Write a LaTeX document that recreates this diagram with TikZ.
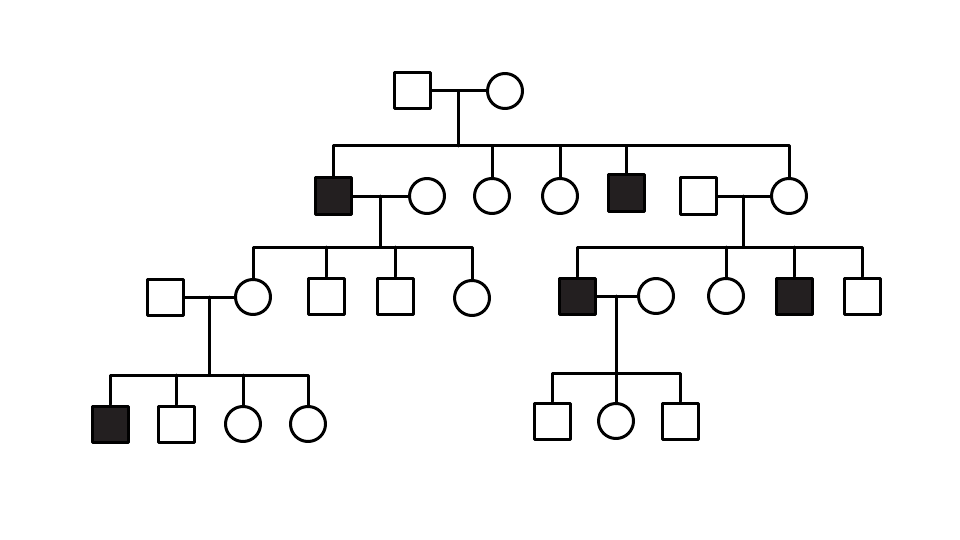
\documentclass[tikz,border=0pt]{standalone}
\usepackage{tikz}
\definecolor{affblack}{RGB}{35,31,32}

\begin{document}
\begin{tikzpicture}[line cap=round,line join=round,x=1pt,y=-1pt,line width=3pt,
		male/.style={draw, rectangle, minimum size=36pt, inner sep=0pt},
		female/.style={draw, circle, minimum size=35pt, inner sep=0pt},
		affected/.style={fill=affblack}]
			\useasboundingbox (0,0) rectangle (960,540);
			%generation I
			\node[male] (I1) at (412,91) {};
			\node[female] (I2) at (505,91) {};
			%generation II
			\node[male, affected] (II1) at (333,196) {};
			\node[female] (II2) at (427,196) {};
			\node[female] (II3) at (492,196) {};
			\node[female] (II4) at (560,196) {};
			\node[male, affected] (II5) at (626,193) {};
			\node[male] (II6) at (698,196) {};
			\node[female] (II7) at (789,196) {};
			%generation III
			\node[male] (III1) at (165,297) {};
			\node[female] (III2) at (253,297) {};
			\node[male] (III3) at (326,296) {};
			\node[male] (III4) at (395,296) {};
			\node[female] (III5) at (472,298) {};
			\node[male, affected] (III6) at (577,296) {};
			\node[female] (III7) at (656,296) {};
			\node[female] (III8) at (726,296) {};
			\node[male, affected] (III9) at (794,296) {};
			\node[male] (III10) at (862,296) {};
			%generation IV
			\node[male, affected] (IV1) at (110,424) {};
			\node[male] (IV2) at (176,424) {};
			\node[female] (IV3) at (243,424) {};
			\node[female] (IV4) at (308,424) {};
			\node[male] (IV5) at (552,421) {};
			\node[female] (IV6) at (616,421) {};
			\node[male] (IV7) at (680,421) {};
			%lignes de fratrie
			\coordinate (s1) at (458,146);
			\coordinate (s2) at (381,247);
			\coordinate (s3) at (743,247);
			\coordinate (s4) at (208,375);
			\coordinate (s5) at (616,373);
			%couples
			\draw (I1) -- coordinate[midway] (m1) (I2);
			\draw (II1) -- coordinate[midway] (m2) (II2);
			\draw (II6) -- coordinate[midway] (m3) (II7);
			\draw (III1) -- coordinate[midway] (m4) (III2);
			\draw (III6) -- coordinate[midway] (m5) (III7);
			\draw (m1) -- (m1 |- s1);
			\draw (m2) -- (m2 |- s2);
			\draw (m3) -- (m3 |- s3);
			\draw (m4) -- (m4 |- s4);
			\draw (m5) -- (m5 |- s5);
			%enfants
			\draw (II1.north) |- (s1) -| (II7.north);
			\draw (III2.north) |- (s2) -| (III5.north);
			\draw (III6.north) |- (s3) -| (III10.north);
			\draw (IV1.north) |- (s4) -| (IV4.north);
			\draw (IV5.north) |- (s5) -| (IV7.north);
			\foreach \c/\s in {II3/s1, II4/s1, II5/s1, III3/s2, III4/s2, III8/s3, III9/s3, IV2/s4, IV3/s4, IV6/s5}
				\draw (\c.north) -- (\c.north |- \s);
\end{tikzpicture}
\end{document}
